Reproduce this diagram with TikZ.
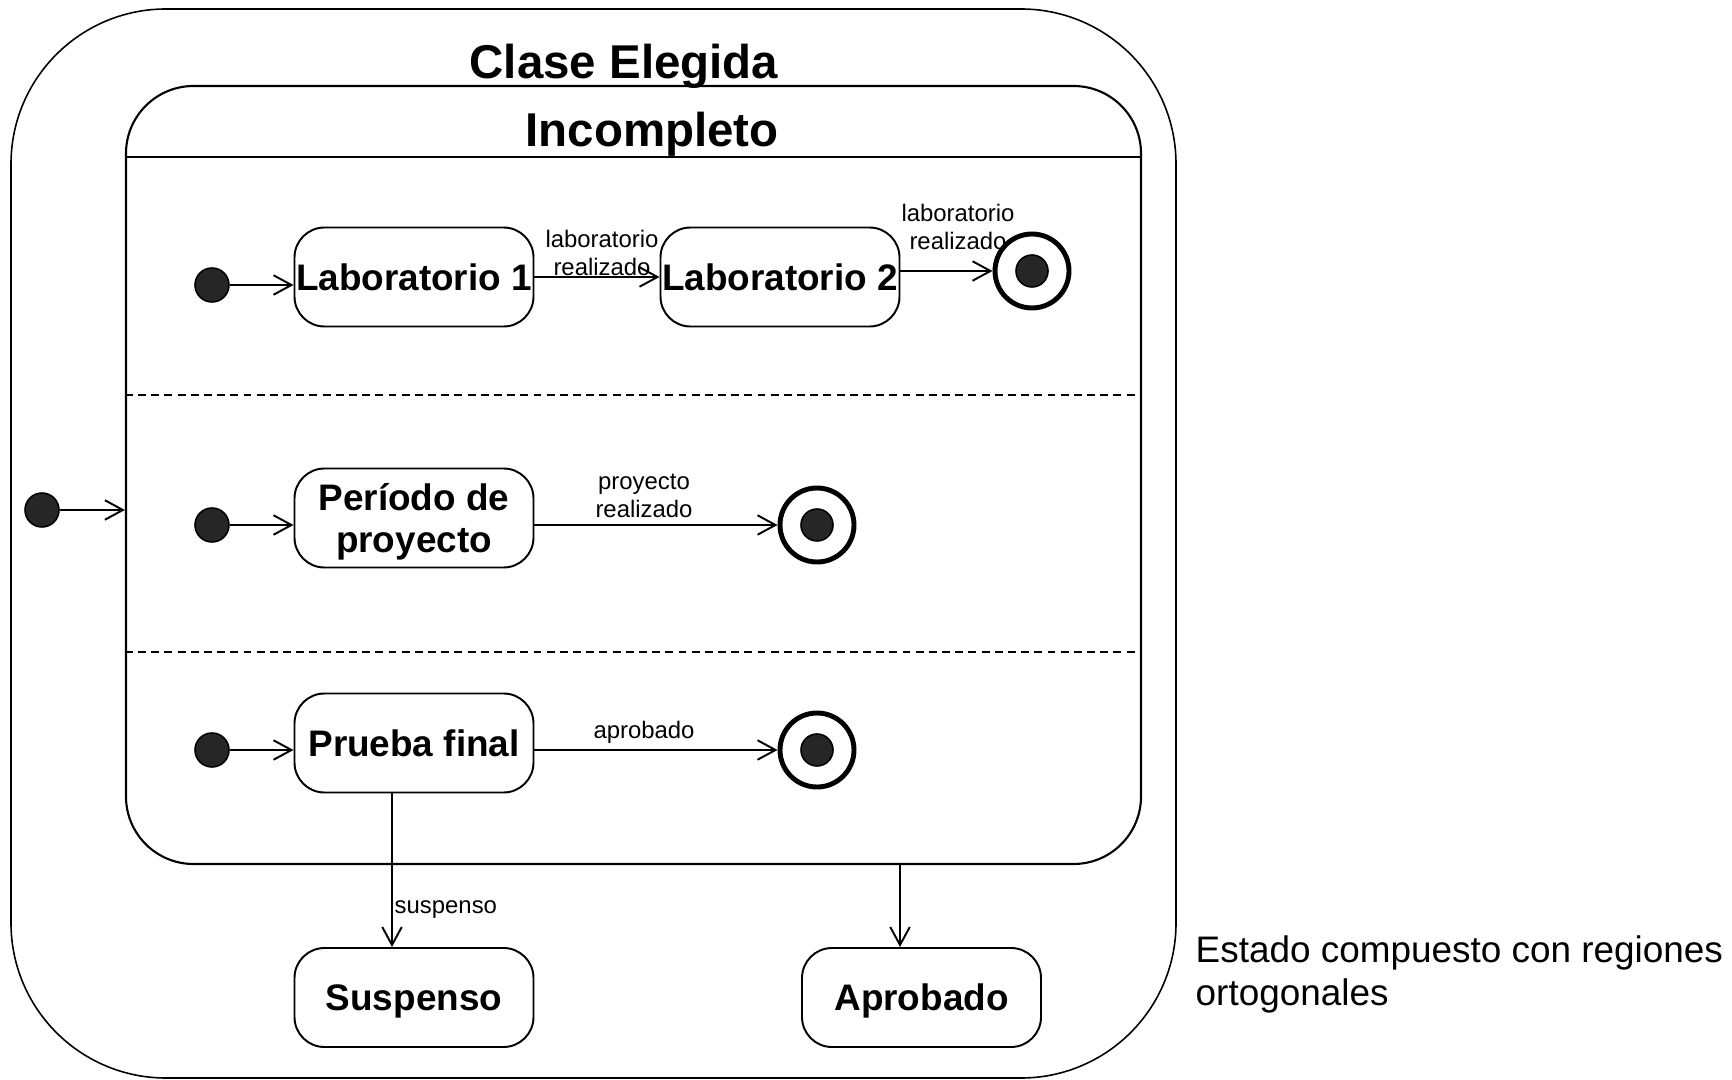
\documentclass[tikz,border=0pt]{standalone}
\usepackage{fontspec}
\setmainfont{Liberation Sans}
\usetikzlibrary{positioning,arrows.meta}

\begin{document}
\begin{tikzpicture}[
    state/.style  ={draw, line width=1.1pt, rounded corners=0.6cm, minimum width=4.78cm,
                    minimum height=1.98cm, inner sep=0pt, align=center, text depth=0pt,
                    font=\fontsize{21}{24}\selectfont\bfseries},
    initial/.style={circle, draw, line width=0.9pt, fill=black!85, minimum size=0.68cm, inner sep=0pt},
    final/.style  ={circle, draw, line width=2.8pt, minimum size=1.48cm, inner sep=0pt,
                    path picture={\filldraw[fill=black!85, line width=0.9pt]
                      (path picture bounding box.center) circle (0.32cm);}},
    trans/.style  ={-{Straight Barb[length=3.6mm,width=3.9mm,line width=1.1pt]}, line width=1.1pt},
    lbl/.style    ={font=\fontsize{13.6}{16}\selectfont, align=center, inner sep=1pt},
    title/.style  ={font=\fontsize{27}{30}\selectfont\bfseries},
    region/.style ={line width=1.1pt, dash pattern=on 4.5pt off 3pt}
  ]
    \useasboundingbox (0,0) rectangle (34.64,21.58);

    % --- composite states ---
    \node[draw, line width=0.9pt, rounded corners=3.1cm, minimum width=23.3cm,
          minimum height=21.38cm] (cls) at (11.87,10.71) {};
    \node[title] (clst) at (12.48,20.25) {Clase Elegida};
    \node[draw, line width=1.2pt, rounded corners=1.35cm, minimum width=20.3cm,
          minimum height=15.56cm] (inc) at (12.67,12.08) {};
    \node[title] (inct) at (13.04,18.89) {Incompleto};
    \coordinate (hdr) at (0,18.44);
    \draw[line width=1.2pt] (inc.west |- hdr) -- (inc.east |- hdr);
    \coordinate (cut1) at (0,13.68);
    \coordinate (cut2) at (0,8.54);
    \draw[region] (inc.west |- cut1) -- (inc.east |- cut1);
    \draw[region] (inc.west |- cut2) -- (inc.east |- cut2);

    % --- outer initial ---
    \node[initial] (oinit) at (0.84,11.38) {};
    \draw[trans] (oinit) -- (oinit -| inc.west);

    % --- region 1: laboratorios ---
    \node[initial] (init1) at (4.24,15.88) {};
    \node[state]   (lab1)  at (8.28,16.04) {Laboratorio 1};
    \node[state]   (lab2)  at (15.60,16.04) {Laboratorio 2};
    \node[final]   (fin1)  at (20.64,16.16) {};
    \draw[trans] (init1) -- (init1 -| lab1.west);
    \draw[trans] (lab1) -- (lab2);
    \draw[trans] (lab2.east |- fin1) -- (fin1);
    \node[lbl] (l12) at (12.04,16.52) {laboratorio\\realizado};
    \node[lbl] (l2f) at (19.16,17.04) {laboratorio\\realizado};

    % --- region 2: proyecto ---
    \node[initial] (init2) at (4.24,11.08) {};
    \node[state]   (per)   at (8.28,11.22) {Período de\\proyecto};
    \node[final]   (fin2)  at (16.34,11.08) {};
    \draw[trans] (init2) -- (init2 -| per.west);
    \draw[trans] (per.east |- fin2) -- (fin2);
    \node[lbl] (lpf) at (12.88,11.66) {proyecto\\realizado};

    % --- region 3: prueba final ---
    \node[initial] (init3) at (4.24,6.58) {};
    \node[state]   (pf)    at (8.28,6.72) {Prueba final};
    \node[final]   (fin3)  at (16.34,6.58) {};
    \draw[trans] (init3) -- (init3 -| pf.west);
    \draw[trans] (pf.east |- fin3) -- (fin3);
    \node[lbl] (lap) at (12.88,6.94) {aprobado};

    % --- exits ---
    \node[state] (sus) at (8.28,1.63) {Suspenso};
    \node[state] (apr) at (18.43,1.63) {Aprobado};
    \coordinate (susx) at (7.84,0);
    \coordinate (aprx) at (18.0,0);
    \draw[trans] (susx |- pf.south) -- (susx |- sus.north)
      node[lbl, pos=0.755, anchor=west] {suspenso};
    \draw[trans] (aprx |- inc.south) -- (aprx |- apr.north);

    % --- caption ---
    \node[anchor=west, align=left, font=\fontsize{21}{24}\selectfont] (cap) at (23.79,2.09)
      {Estado compuesto con regiones\\ortogonales};
  \end{tikzpicture}
\end{document}
